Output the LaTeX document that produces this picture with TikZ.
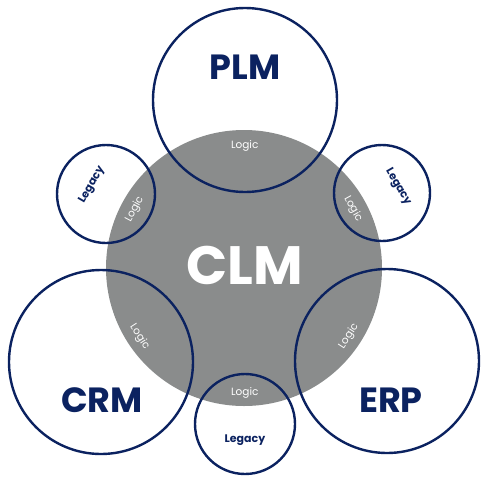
\documentclass[tikz,border=0pt]{standalone}
\usepackage{fontspec}
\setmainfont{Poppins}
\usetikzlibrary{calc}

\definecolor{navy}{HTML}{0B2260}
\definecolor{clmgray}{HTML}{8A8C8C}

\begin{document}
\begin{tikzpicture}[x=1pt,y=-1pt,
  sys/.style={circle,draw=navy,line width=2.4pt,minimum size=#1,inner sep=0pt},
  bigname/.style={text=navy,font=\fontsize{35}{35}\selectfont\bfseries},
  legacyname/.style={text=navy,font=\fontsize{11}{11}\selectfont\bfseries},
  logicname/.style={text=white,font=\fontsize{10.5}{10.5}\selectfont}]
  \useasboundingbox (0,0) rectangle (487,480);

  % Central grey disc.
  \node[circle,fill=clmgray,minimum size=276pt,inner sep=0pt] (clm) at (244,268) {};
  \node[text=white,font=\fontsize{54}{54}\selectfont\bfseries] (clmlabel) at (245,265) {CLM};

  % Systems around it, outlines only so the grey shows through.
  \node[sys=184pt] (plm) at (245,100) {};
  \node[sys=184pt] (crm) at (101,362) {};
  \node[sys=184pt] (erp) at (387,361) {};
  \node[sys=98pt] (legacyL) at (106,194) {};
  \node[sys=96pt] (legacyR) at (382,193) {};
  \node[sys=100pt] (legacyB) at (245,424) {};

  % Names.
  \node[bigname] (plmlabel) at (245,67) {PLM};
  \node[bigname] (crmlabel) at (102,400) {CRM};
  \node[bigname] (erplabel) at (391,400) {ERP};
  \node[legacyname,rotate=60] (legacyLlabel) at (92,185) {Legacy};
  \node[legacyname,rotate=-60] (legacyRlabel) at (398,187) {Legacy};
  \node[legacyname] (legacyBlabel) at (245,440) {Legacy};

  % Logic where each system overlaps the disc.
  \node[logicname] (logicP) at ($(clm.center)!122pt!(plm.center)$) {Logic};
  \node[logicname,rotate=62] (logicL) at ($(clm.center)!124pt!(legacyL.center)$) {Logic};
  \node[logicname,rotate=-61] (logicR) at ($(clm.center)!124pt!(legacyR.center)$) {Logic};
  \node[logicname,rotate=-57] (logicC) at ($(clm.center)!125pt!(crm.center)$) {Logic};
  \node[logicname,rotate=57] (logicE) at ($(clm.center)!125pt!(erp.center)$) {Logic};
  \node[logicname] (logicB) at ($(clm.center)!125pt!(legacyB.center)$) {Logic};
\end{tikzpicture}
\end{document}
